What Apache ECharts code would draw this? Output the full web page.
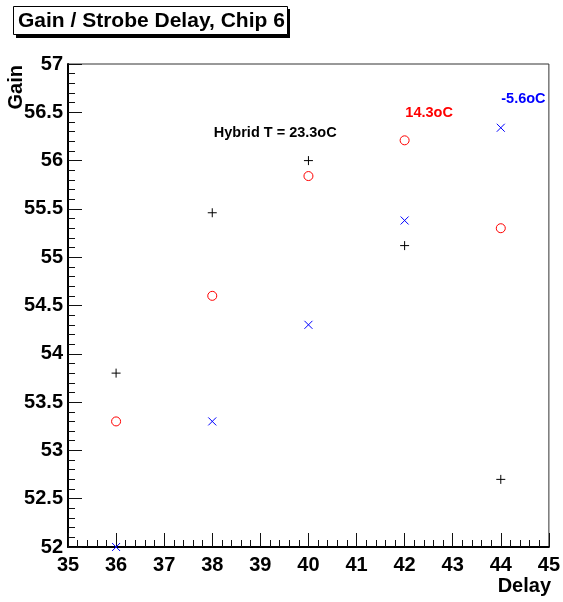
<!DOCTYPE html>
<html>
<head>
<meta charset="utf-8">
<script src="https://cdn.jsdelivr.net/npm/echarts@6/dist/echarts.min.js"></script>
<style>
html,body{margin:0;padding:0;background:#fff;}
#chart{width:563px;height:602px;}
</style>
</head>
<body>
<div id="chart"></div>
<script>
// Data
var delays = [36, 38, 40, 42, 44];
var gainHybrid233 = [53.80, 55.46, 56.00, 55.12, 52.70];
var gain143 = [53.30, 54.60, 55.84, 56.21, 55.30];
var gainMinus56 = [52.00, 53.30, 54.30, 55.38, 56.34];
var seriesLabels = ['Hybrid T = 23.3oC', '14.3oC', '-5.6oC'];
var titleText = 'Gain / Strobe Delay, Chip 6';
var xName = 'Delay';
var yName = 'Gain';

function pairs(xs, ys) { return xs.map(function (x, i) { return [x, ys[i]]; }); }

var FONT = '"Liberation Sans", Arial, Helvetica, sans-serif';
var chart = echarts.init(document.getElementById('chart'));

function annot(name, coord, color) {
  return {
    type: 'scatter', silent: true, symbolSize: 0, data: [coord.concat([name])],
    itemStyle: { opacity: 1 },
    label: { show: true, position: 'inside', formatter: function (p) { return p.data[2]; },
      color: color, fontFamily: FONT, fontWeight: 'bold', fontSize: 14.5 },
    z: 5
  };
}

var option = {
  animation: false,
  backgroundColor: '#fff',
  grid: { left: 68, right: 12, top: 64, bottom: 55, show: true, borderColor: '#333', borderWidth: 1, backgroundColor: 'transparent' },
  xAxis: {
    type: 'value', min: 35, max: 45, interval: 1,
    axisLine: { show: true, lineStyle: { color: '#000', width: 2 } },
    axisTick: { show: true, inside: true, length: 14, lineStyle: { color: '#111' } },
    minorTick: { show: true, splitNumber: 5, length: 7, lineStyle: { color: '#111' } },
    splitLine: { show: false },
    axisLabel: { color: '#000', fontFamily: FONT, fontWeight: 'bold', fontSize: 20, margin: 8, showMinLabel: true, showMaxLabel: true }
  },
  yAxis: {
    type: 'value', min: 52, max: 57, interval: 0.5,
    axisLine: { show: true, lineStyle: { color: '#000', width: 2 } },
    axisTick: { show: true, inside: true, length: 14, lineStyle: { color: '#111' } },
    minorTick: { show: true, splitNumber: 5, length: 7, lineStyle: { color: '#111' } },
    splitLine: { show: false },
    axisLabel: { color: '#000', fontFamily: FONT, fontWeight: 'bold', fontSize: 20, margin: 5, showMinLabel: true, showMaxLabel: true }
  },
  series: [
    {
      name: seriesLabels[0], type: 'scatter', data: pairs(delays, gainHybrid233),
      symbol: 'path://M0,5L10,5M5,0L5,10', symbolSize: 9,
      itemStyle: { color: 'transparent', borderColor: '#000', borderWidth: 1, opacity: 1 }
    },
    {
      name: seriesLabels[1], type: 'scatter', data: pairs(delays, gain143),
      symbol: 'circle', symbolSize: 9,
      itemStyle: { color: 'transparent', borderColor: '#ff0000', borderWidth: 1, opacity: 1 }
    },
    {
      name: seriesLabels[2], type: 'scatter', data: pairs(delays, gainMinus56),
      symbol: 'path://M0,0L10,10M0,10L10,0', symbolSize: 8,
      itemStyle: { color: 'transparent', borderColor: '#0000ff', borderWidth: 1, opacity: 1 }
    },
    annot(seriesLabels[0], [39.31, 56.29], '#000'),
    annot(seriesLabels[1], [42.51, 56.49], '#ff0000'),
    annot(seriesLabels[2], [44.47, 56.64], '#0000ff')
  ],
  graphic: [
    { type: 'rect', shape: { x: 16, y: 9, width: 274, height: 29 }, style: { fill: '#000' }, silent: true },
    { type: 'rect', shape: { x: 13.5, y: 6.5, width: 274, height: 28 }, style: { fill: '#fff', stroke: '#000', lineWidth: 1 }, silent: true },
    { type: 'text', x: 18, y: 21, style: { text: titleText, font: 'bold 21px ' + FONT, fill: '#000', textVerticalAlign: 'middle', textAlign: 'left' }, silent: true },
    { type: 'text', x: 16, y: 65, rotation: Math.PI / 2, style: { text: yName, font: 'bold 20px ' + FONT, fill: '#000', textAlign: 'right', textVerticalAlign: 'middle' }, silent: true },
    { type: 'text', x: 551, y: 586, style: { text: xName, font: 'bold 20px ' + FONT, fill: '#000', textAlign: 'right', textVerticalAlign: 'middle' }, silent: true }
  ]
};
chart.setOption(option);
</script>
</body>
</html>
